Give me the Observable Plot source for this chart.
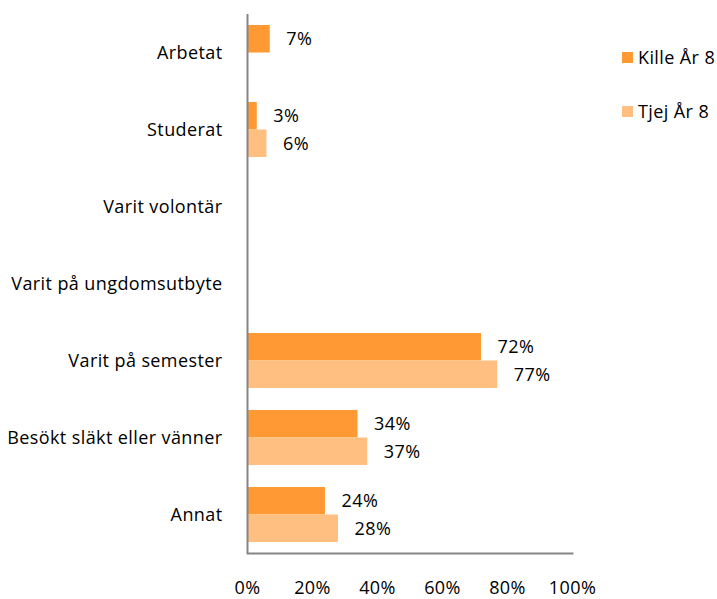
<!DOCTYPE html>
<html>
<head>
<meta charset="utf-8">
<script src="https://cdn.jsdelivr.net/npm/d3@7"></script>
<script src="https://cdn.jsdelivr.net/npm/@observablehq/plot@0.6"></script>
<style>
  body { margin: 0; background: #fff; }
  #wrap { position: relative; width: 717px; height: 599px; font-family: "Open Sans", sans-serif; }
  #wrap svg text { letter-spacing: 0.4px; }
  .legend { position: absolute; left: 622px; font-size: 18px; letter-spacing: 0.4px; color: #000; display: flex; align-items: center; }
  .legend span.sw { display: inline-block; width: 11px; height: 11px; margin-right: 5px; }
</style>
</head>
<body>
<div id="wrap"></div>
<script>
const categories = ["Arbetat", "Studerat", "Varit volontär", "Varit på ungdomsutbyte", "Varit på semester", "Besökt släkt eller vänner", "Annat"];
const series = ["Kille År 8", "Tjej År 8"];
const killeValues = [7, 3, null, null, 72, 34, 24];
const tjejValues = [null, 6, null, null, 77, 37, 28];
const xTicks = [0, 20, 40, 60, 80, 100];
const colors = ["#FF9933", "#FFBF80"];

const kille = categories.map((c, i) => ({category: c, series: series[0], value: killeValues[i]})).filter(d => d.value != null);
const tjej = categories.map((c, i) => ({category: c, series: series[1], value: tjejValues[i]})).filter(d => d.value != null);

const chart = Plot.plot({
  width: 717,
  height: 599,
  marginLeft: 247,
  marginRight: 145,
  marginTop: 14,
  marginBottom: 46,
  style: {fontFamily: "Open Sans, sans-serif", fontSize: "18px", color: "#000", background: "#fff", overflow: "visible"},
  x: {domain: [0, 100], ticks: xTicks, tickFormat: d => d + "%", tickSize: 0, tickPadding: 28, label: null},
  y: {domain: categories, padding: 0, tickSize: 0, tickPadding: 25, label: null},
  color: {domain: series, range: colors},
  marks: [
    Plot.barX(kille, {x: "value", y: "category", fill: "series", insetTop: 11, insetBottom: 38.5}),
    Plot.barX(tjej, {x: "value", y: "category", fill: "series", insetTop: 38.5, insetBottom: 11}),
    Plot.text(kille, {x: "value", y: "category", text: d => d.value + "%", dx: 16, dy: -13.75, textAnchor: "start", fill: "#000"}),
    Plot.text(tjej, {x: "value", y: "category", text: d => d.value + "%", dx: 16, dy: 13.75, textAnchor: "start", fill: "#000"}),
    Plot.ruleX([0], {stroke: "#868686", strokeWidth: 2}),
    Plot.frame({anchor: "bottom", stroke: "#868686", strokeWidth: 2})
  ]
});

const wrap = document.getElementById("wrap");
wrap.appendChild(chart);
const legendTops = [45, 99];
series.forEach((s, i) => {
  const el = document.createElement("div");
  el.className = "legend";
  el.style.top = legendTops[i] + "px";
  el.innerHTML = `<span class="sw" style="background:${colors[i]}"></span>${s}`;
  wrap.appendChild(el);
});
</script>
</body>
</html>
